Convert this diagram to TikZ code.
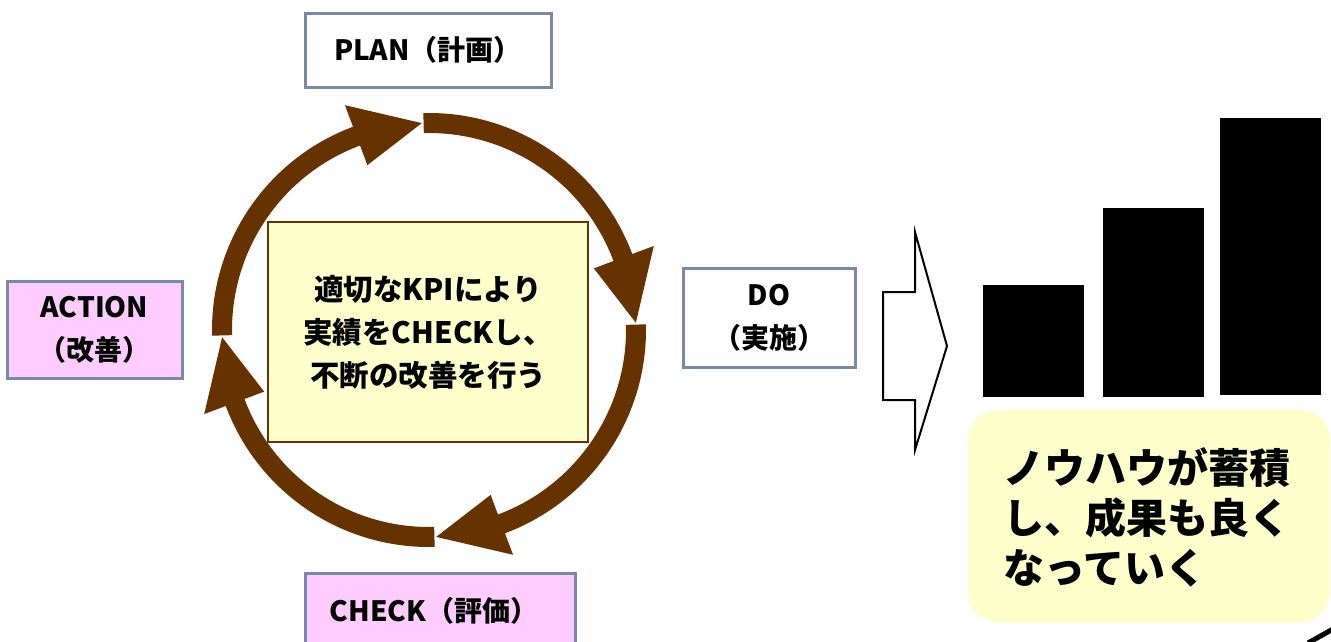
\documentclass[tikz,border=0pt]{standalone}
\usepackage{fontspec}
\setmainfont{Noto Sans CJK JP}
\definecolor{cycbrown}{RGB}{102,51,0}
\definecolor{boxgray}{RGB}{122,137,165}
\definecolor{pinkfill}{RGB}{255,204,255}
\definecolor{paleyellow}{RGB}{255,255,204}
\begin{document}
\begin{tikzpicture}[x=1pt,y=1pt,
  labelbox/.style={draw=boxgray,line width=3pt,inner sep=0pt,align=center,font=\fontsize{28}{43}\selectfont\bfseries},
  cyc/.style={fill=cycbrown},
  bar/.style={fill=black}]
\clip (0,0) rectangle (1331,-641);
\fill[white] (0,0) rectangle (1331,-641);

% cycle arrows
\begin{scope}[shift={(429,-330)}]
\foreach \t in {181.5,91.5,1.5,271.5}{
  \pgfmathsetmacro{\b}{\t-71}
  \pgfmathsetmacro{\p}{\t-89.5}
  \fill[cyc] (\t:217) arc[start angle=\t, end angle=\b, radius=217]
    -- (\b:240) -- (\p:207) -- (\b:176) -- (\b:197)
    arc[start angle=\b, end angle=\t, radius=197] -- cycle;
}
\end{scope}

% centre box
\node[draw=cycbrown,line width=2pt,fill=paleyellow,minimum width=320pt,minimum height=220pt,inner sep=0pt,
  align=center,font=\fontsize{29.5}{43}\selectfont\bfseries] (kpi) at (428,-332)
  {適切なKPIにより\\実績をCHECKし、\\不断の改善を行う};

% labels
\node[labelbox,fill=white,minimum width=246pt,minimum height=74pt] (plan) at (428,-50) {PLAN（計画）};
\node[labelbox,fill=white,minimum width=172pt,minimum height=99pt] (do) at (769,-317.5) {DO\\（実施）};
\node[labelbox,fill=pinkfill,minimum width=175pt,minimum height=97pt] (action) at (94.5,-329.5) {ACTION\\（改善）};
\node[labelbox,fill=pinkfill,minimum width=270pt,minimum height=90pt] (check) at (440,-618) {};
\node[font=\fontsize{28}{30}\selectfont\bfseries,inner sep=0pt] (checktxt) at (434,-611) {CHECK（評価）};

% block arrow
\draw[line width=2pt,fill=white,line join=miter] (915,-232) -- (915,-292) -- (883,-292) -- (883,-400)
  -- (915,-400) -- (915,-450) -- (947,-346) -- cycle;

% bars
\fill[bar] (983,-285) rectangle (1084,-397);
\fill[bar] (1103,-208) rectangle (1204,-397);
\fill[bar] (1220,-118) rectangle (1321,-395);

% result box
\node[fill=paleyellow,rounded corners=30pt,minimum width=362pt,minimum height=212pt,inner sep=0pt] (resbox) at (1149,-516) {};
\node[anchor=west,align=left,inner sep=0pt,font=\fontsize{41}{50}\selectfont\bfseries] (restxt) at (1003,-517)
  {ノウハウが蓄積\\し、成果も良く\\なっていく};

% partial stroke at corner
\draw[line width=5pt] (1308,-643) -- (1333,-629);
\end{tikzpicture}
\end{document}
